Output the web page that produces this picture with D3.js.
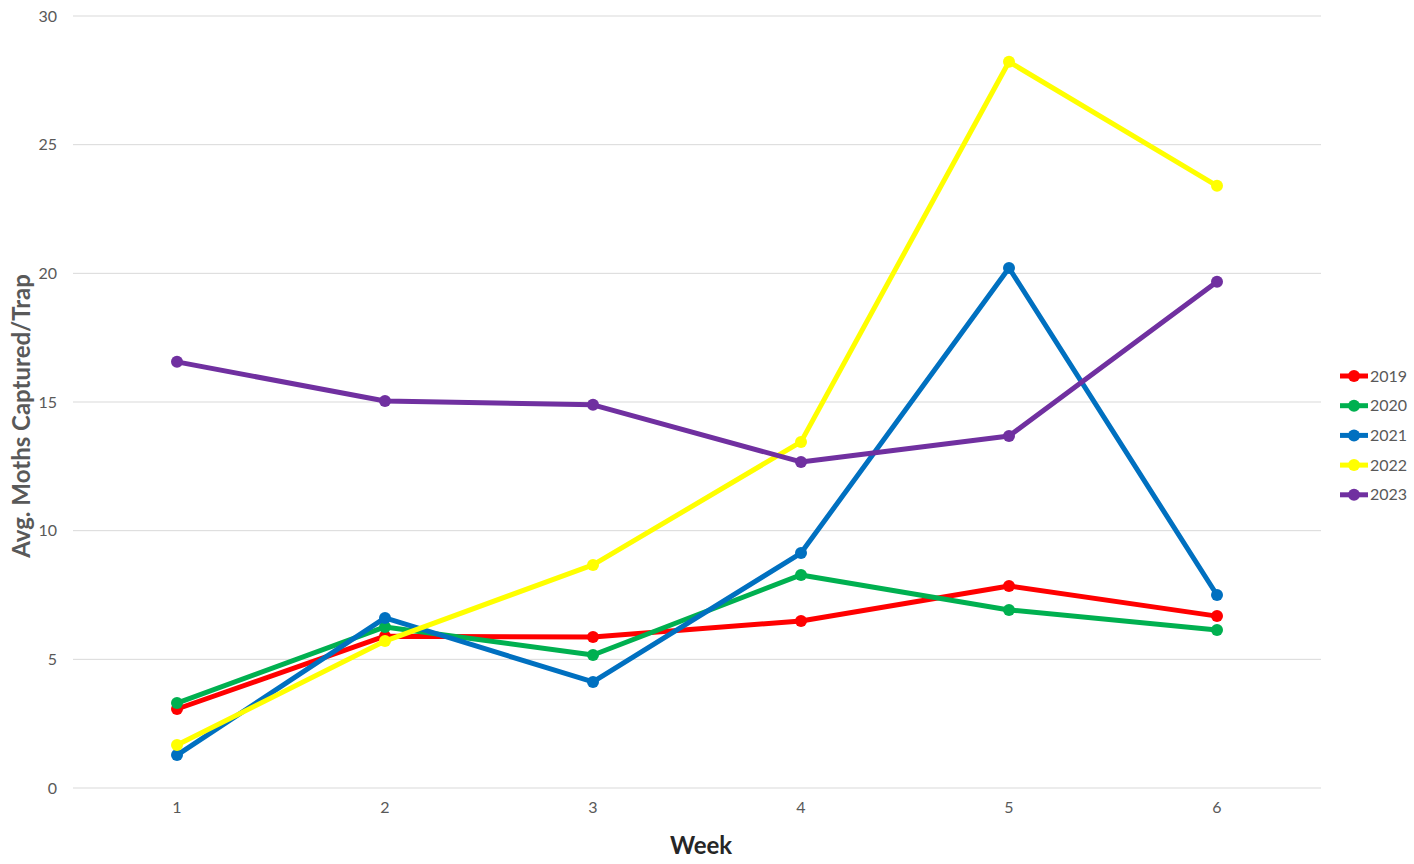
<!DOCTYPE html>
<html>
<head>
<meta charset="utf-8">
<script src="https://cdn.jsdelivr.net/npm/d3@7"></script>
<style>
  body { margin: 0; background: #fff; }
  svg { display: block; font-family: Lato, "Liberation Sans", sans-serif; }
</style>
</head>
<body>
<svg id="chart" width="1414" height="864"></svg>
<script>
const weeks = [1, 2, 3, 4, 5, 6];
const years = ["2019", "2020", "2021", "2022", "2023"];
const colors = ["#ff0000", "#00b050", "#0070c0", "#ffff00", "#7030a0"];
const values2019 = [3.07, 5.9, 5.87, 6.49, 7.85, 6.68];
const values2020 = [3.30, 6.26, 5.17, 8.28, 6.92, 6.14];
const values2021 = [1.28, 6.61, 4.12, 9.13, 20.21, 7.50];
const values2022 = [1.67, 5.71, 8.67, 13.45, 28.22, 23.40];
const values2023 = [16.56, 15.04, 14.89, 12.67, 13.68, 19.67];
const yTicks = [0, 5, 10, 15, 20, 25, 30];

const series = [values2019, values2020, values2021, values2022, values2023]
    .map((vals, i) => ({ year: years[i], color: colors[i], values: vals }));

const svg = d3.select("#chart");
const plot = { left: 73, right: 1321, top: 16, bottom: 788 };

const x = d3.scaleBand().domain(weeks).range([plot.left, plot.right]);
const y = d3.scaleLinear().domain([0, 30]).range([plot.bottom, plot.top]);
const cx = w => x(w) + x.bandwidth() / 2;

// gridlines
svg.append("g")
    .selectAll("line")
    .data(yTicks)
    .join("line")
    .attr("x1", plot.left)
    .attr("x2", plot.right)
    .attr("y1", d => y(d))
    .attr("y2", d => y(d))
    .attr("stroke", "#d9d9d9")
    .attr("stroke-width", 1);

// y axis
const yAxis = svg.append("g")
    .attr("transform", `translate(${plot.left - 16},0)`)
    .call(d3.axisLeft(y).tickValues(yTicks).tickSize(0).tickPadding(0));
yAxis.select(".domain").remove();
yAxis.selectAll("text")
    .attr("fill", "#595959")
    .attr("font-size", 16)
    .attr("font-family", "Lato, 'Liberation Sans', sans-serif");

// x axis
const xAxis = svg.append("g")
    .attr("transform", `translate(0,${plot.bottom + 14})`)
    .call(d3.axisBottom(x).tickSize(0).tickPadding(0));
xAxis.select(".domain").remove();
xAxis.selectAll("text")
    .attr("fill", "#595959")
    .attr("font-size", 16)
    .attr("font-family", "Lato, 'Liberation Sans', sans-serif");

// axis titles
svg.append("text")
    .attr("x", (plot.left + plot.right) / 2 + 4)
    .attr("y", 854)
    .attr("text-anchor", "middle")
    .attr("font-size", 24)
    .attr("font-weight", "bold")
    .attr("fill", "#262626")
    .text("Week");

svg.append("text")
    .attr("transform", "translate(30,416) rotate(-90)")
    .attr("text-anchor", "middle")
    .attr("font-size", 24)
    .attr("font-weight", "bold")
    .attr("fill", "#595959")
    .text("Avg. Moths Captured/Trap");

// lines and markers
const line = d3.line()
    .x((d, i) => cx(weeks[i]))
    .y(d => y(d));

series.forEach(s => {
    const g = svg.append("g");
    g.append("path")
        .datum(s.values)
        .attr("d", line)
        .attr("fill", "none")
        .attr("stroke", s.color)
        .attr("stroke-width", 5)
        .attr("stroke-linejoin", "round");
    g.selectAll("circle")
        .data(s.values)
        .join("circle")
        .attr("cx", (d, i) => cx(weeks[i]))
        .attr("cy", d => y(d))
        .attr("r", 6)
        .attr("fill", s.color);
});

// legend
const legend = svg.append("g").attr("transform", "translate(1340,376)");
const item = legend.selectAll("g")
    .data(series)
    .join("g")
    .attr("transform", (d, i) => `translate(0,${i * 29.7})`);
item.append("line")
    .attr("x1", 0).attr("x2", 28)
    .attr("stroke", d => d.color)
    .attr("stroke-width", 5);
item.append("circle")
    .attr("cx", 14).attr("r", 6)
    .attr("fill", d => d.color);
item.append("text")
    .attr("x", 30)
    .attr("dy", "0.35em")
    .attr("font-size", 16)
    .attr("fill", "#595959")
    .text(d => d.year);
</script>
</body>
</html>
